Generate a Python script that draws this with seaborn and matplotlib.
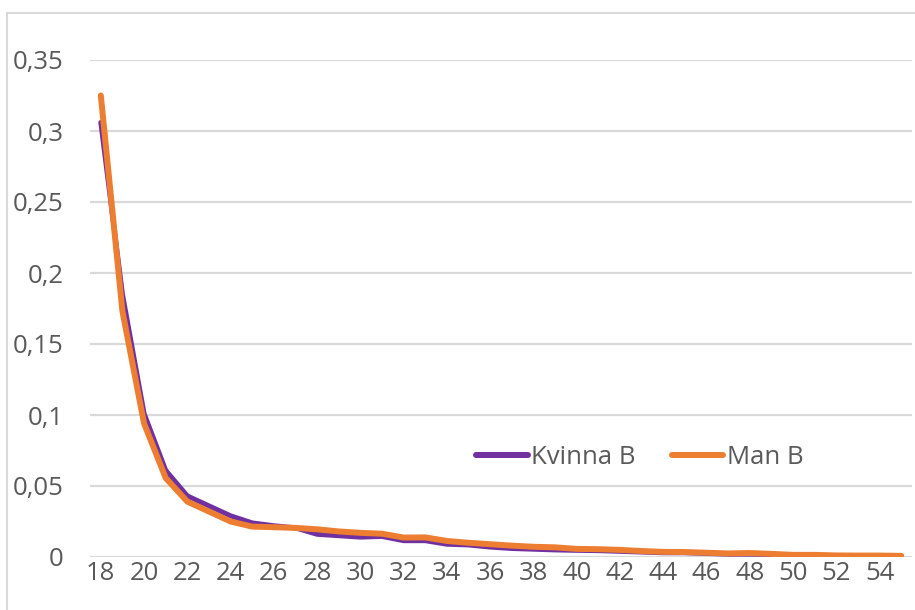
import matplotlib
matplotlib.use("Agg")
import matplotlib.pyplot as plt
import seaborn as sns
import pandas as pd
from matplotlib.lines import Line2D

ages = list(range(18, 56))
kvinna_b = [0.306, 0.185, 0.101, 0.061, 0.043, 0.036, 0.029, 0.024, 0.022, 0.0205,
            0.016, 0.015, 0.014, 0.0145, 0.0115, 0.0115, 0.009, 0.0085, 0.007, 0.006,
            0.0055, 0.005, 0.0047, 0.0045, 0.004, 0.0035, 0.003, 0.003, 0.0025, 0.002,
            0.002, 0.0018, 0.001, 0.001, 0.0008, 0.0008, 0.0008, 0.0006]
man_b = [0.325, 0.173, 0.094, 0.0556, 0.039, 0.032, 0.025, 0.0214, 0.021, 0.0205,
         0.0195, 0.018, 0.017, 0.0164, 0.0137, 0.0138, 0.0113, 0.010, 0.009, 0.008,
         0.0072, 0.0068, 0.0057, 0.0055, 0.005, 0.0042, 0.0036, 0.0035, 0.003, 0.0025,
         0.0028, 0.0022, 0.0015, 0.0015, 0.0011, 0.001, 0.001, 0.0008]
series_names = ["Kvinna B", "Man B"]
colors = ["#7030A0", "#ED7D31"]
yticks = [0, 0.05, 0.1, 0.15, 0.2, 0.25, 0.3, 0.35]
xticks = list(range(18, 55, 2))

sns.set_theme(style="white")
plt.rcParams['font.family'] = ['Open Sans', 'DejaVu Sans']

df = pd.DataFrame({"age": ages * 2,
                   "value": kvinna_b + man_b,
                   "serie": [series_names[0]] * len(ages) + [series_names[1]] * len(ages)})

fig = plt.figure(figsize=(9.15, 6.1), dpi=100)
ax = fig.add_axes([90 / 915, 1 - 557 / 610, (912 - 90) / 915, (557 - 60) / 610])

for name, col, lw in zip(series_names, colors, [3.6, 4.3]):
    sns.lineplot(data=df[df["serie"] == name], x="age", y="value", color=col,
                 linewidth=lw, ax=ax, legend=False, solid_capstyle="round",
                 solid_joinstyle="round")

ax.set_xlim(17.5, 55.5)
ax.set_ylim(0, 0.35)
ax.set_yticks(yticks)
ax.set_yticklabels([("%g" % v).replace(".", ",") for v in yticks])
ax.set_xticks(xticks)
ax.set_xticklabels([str(t) for t in xticks])
ax.tick_params(axis="both", length=0, labelsize=18.5, labelcolor="#595959")
ax.tick_params(axis="y", pad=19)
ax.tick_params(axis="x", pad=3)
ax.set_xlabel("")
ax.set_ylabel("")
ax.grid(axis="y", color="#D9D9D9", linewidth=1.6)
ax.set_axisbelow(True)
for s in ax.spines.values():
    s.set_visible(False)

handles = [Line2D([0], [0], color=c, lw=4.3, solid_capstyle="round") for c in colors]
fig.legend(handles, series_names, loc="center", bbox_to_anchor=(640 / 915, 1 - 457 / 610),
           ncol=2, frameon=False, fontsize=18.5, labelcolor="#595959",
           handlelength=2.0, handletextpad=0.15, columnspacing=1.4)

# chart border (left and top edges)
fig.add_artist(Line2D([7 / 915, 7 / 915], [0, 1 - 13 / 610], color="#D9D9D9", lw=1.5,
                      transform=fig.transFigure))
fig.add_artist(Line2D([7 / 915, 1], [1 - 13 / 610, 1 - 13 / 610], color="#D9D9D9", lw=1.5,
                      transform=fig.transFigure))

fig.savefig("out.png", dpi=100, facecolor="white")
